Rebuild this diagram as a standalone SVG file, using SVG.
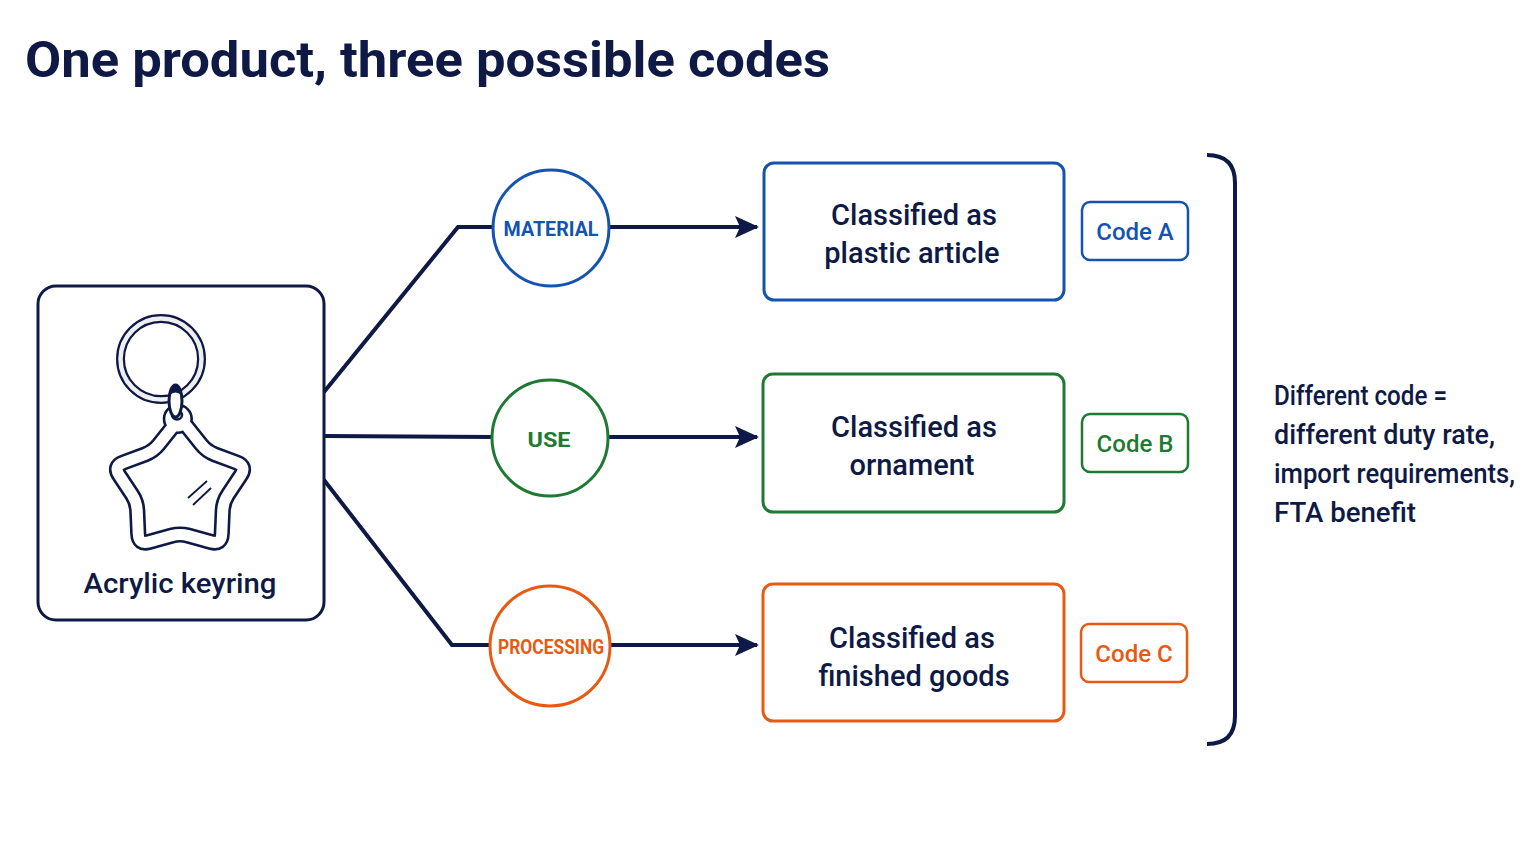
<svg xmlns="http://www.w3.org/2000/svg" width="1536" height="864" viewBox="0 0 1536 864">
<style>
text{font-family:Roboto,"Liberation Sans",sans-serif;}
.title{font-size:50px;font-weight:700;fill:#0e1a45;}
.lbl{font-size:28px;font-weight:500;fill:#0e1a45;}
.box{font-size:29px;font-weight:500;fill:#0e1a45;text-anchor:middle;}
.circ{font-size:21px;font-weight:700;text-anchor:middle;}
.code{font-size:24px;font-weight:500;text-anchor:middle;}
.conn{fill:none;stroke:#0e1a45;stroke-width:4;stroke-linejoin:miter;}
</style>
<defs>
<marker id="arrow" markerWidth="24" markerHeight="24" refX="22" refY="12" orient="auto" markerUnits="userSpaceOnUse">
<path d="M0,1 L24,12 L0,23 L5,12 Z" fill="#0e1a45"/>
</marker>
<path id="star" d="M173.77,428.82 Q180,421 186.23,428.82 L199.71,445.76 Q204.69,452.02 212.18,454.82 L232.45,462.41 Q241.82,465.91 236.30,474.25 L224.35,492.31 Q219.94,498.98 219.59,506.97 L218.65,528.60 Q218.21,538.59 208.57,535.92 L187.71,530.14 Q180,528 172.29,530.14 L151.43,535.92 Q141.79,538.59 141.35,528.60 L140.41,506.97 Q140.06,498.98 135.65,492.31 L123.70,474.25 Q118.18,465.91 127.55,462.41 L147.82,454.82 Q155.31,452.02 160.29,445.76 Z"/>
</defs>
<rect width="1536" height="864" fill="#ffffff"/>
<text class="title" x="25" y="77" textLength="805" lengthAdjust="spacingAndGlyphs">One product, three possible codes</text>

<g id="connectors">
<path class="conn" d="M324,392 L458,227 L493,227"/>
<path class="conn" d="M324,436 L493,437"/>
<path class="conn" d="M324,480 L452,645 L490,645"/>
<path class="conn" d="M609,227 L757,227" marker-end="url(#arrow)"/>
<path class="conn" d="M608,437 L757,437" marker-end="url(#arrow)"/>
<path class="conn" d="M610,645 L757,645" marker-end="url(#arrow)"/>
</g>

<g id="product">
<rect x="38" y="286" width="286" height="334" rx="18" fill="#fff" stroke="#0e1a45" stroke-width="3"/>
<circle cx="161" cy="359" r="40.5" fill="none" stroke="#0e1a45" stroke-width="9"/>
<circle cx="161" cy="359" r="40.5" fill="none" stroke="#efefef" stroke-width="4.5"/>
<g transform="translate(180,488) scale(1.08) translate(-180,-486)">
<use href="#star" fill="#fff" stroke="#0e1a45" stroke-width="15" stroke-linejoin="round"/>
<circle cx="178" cy="422" r="6.5" fill="#fff" stroke="#0e1a45" stroke-width="15"/>
<use href="#star" fill="none" stroke="#fff" stroke-width="10.2" stroke-linejoin="round"/>
<circle cx="178" cy="422" r="6.5" fill="none" stroke="#fff" stroke-width="10.2"/>
</g>
<ellipse cx="177" cy="415" rx="5" ry="4.5" fill="#fff" stroke="#0e1a45" stroke-width="2.5"/>
<ellipse cx="175.5" cy="401" rx="6.5" ry="16" fill="#fff" stroke="#0e1a45" stroke-width="3"/>
<path d="M169.5,395 Q169.5,385 175.5,385 Q181.5,385 181.5,395 Q175.5,390 169.5,395 Z" fill="#0e1a45"/>
<line x1="188" y1="498" x2="207" y2="481" stroke="#0e1a45" stroke-width="1.8"/>
<line x1="193" y1="505" x2="211" y2="488" stroke="#0e1a45" stroke-width="1.8"/>
<text class="lbl" x="180" y="593" text-anchor="middle" textLength="193" lengthAdjust="spacingAndGlyphs">Acrylic keyring</text>
</g>

<g id="material">
<circle cx="551" cy="228" r="58" fill="#fff" stroke="#1553b0" stroke-width="3"/>
<text class="circ" x="551" y="236" fill="#1553b0" textLength="95" lengthAdjust="spacingAndGlyphs">MATERIAL</text>
</g>
<g id="use">
<circle cx="550" cy="438" r="58" fill="#fff" stroke="#1e7a32" stroke-width="3"/>
<text class="circ" x="549" y="447" fill="#1e7a32" textLength="43" lengthAdjust="spacingAndGlyphs">USE</text>
</g>
<g id="processing">
<circle cx="550" cy="646" r="60" fill="#fff" stroke="#e85a12" stroke-width="3"/>
<text class="circ" x="551" y="654" fill="#e85a12" textLength="106" lengthAdjust="spacingAndGlyphs">PROCESSING</text>
</g>

<g id="plastic">
<rect x="764" y="163" width="300" height="137" rx="10" fill="#fff" stroke="#1553b0" stroke-width="3"/>
<text class="box" x="914" y="225">Classified as</text>
<text class="box" x="912" y="263">plastic article</text>
</g>
<g id="ornament">
<rect x="763" y="374" width="301" height="138" rx="10" fill="#fff" stroke="#1e7a32" stroke-width="3"/>
<text class="box" x="914" y="437">Classified as</text>
<text class="box" x="912" y="475">ornament</text>
</g>
<g id="finished">
<rect x="763" y="584" width="301" height="137" rx="10" fill="#fff" stroke="#e85a12" stroke-width="3"/>
<text class="box" x="912" y="648">Classified as</text>
<text class="box" x="914" y="686">finished goods</text>
</g>

<g id="codeA">
<rect x="1082" y="202" width="106" height="58" rx="8" fill="#fff" stroke="#1553b0" stroke-width="2.5"/>
<text class="code" x="1135" y="240" fill="#1553b0">Code A</text>
</g>
<g id="codeB">
<rect x="1082" y="414" width="106" height="58" rx="8" fill="#fff" stroke="#1e7a32" stroke-width="2.5"/>
<text class="code" x="1135" y="452" fill="#1e7a32">Code B</text>
</g>
<g id="codeC">
<rect x="1081" y="624" width="106" height="58" rx="8" fill="#fff" stroke="#e85a12" stroke-width="2.5"/>
<text class="code" x="1134" y="662" fill="#e85a12">Code C</text>
</g>

<g id="bracket">
<path d="M1207,155 Q1235,155 1235,183 L1235,716 Q1235,744 1207,744" fill="none" stroke="#0e1a45" stroke-width="4"/>
</g>

<g id="note">
<text class="lbl" x="1274" y="405" textLength="173" lengthAdjust="spacingAndGlyphs">Different code =</text>
<text class="lbl" x="1274" y="444" textLength="221" lengthAdjust="spacingAndGlyphs">different duty rate,</text>
<text class="lbl" x="1274" y="483" textLength="241" lengthAdjust="spacingAndGlyphs">import requirements,</text>
<text class="lbl" x="1274" y="522" textLength="142" lengthAdjust="spacingAndGlyphs">FTA benefit</text>
</g>
</svg>
